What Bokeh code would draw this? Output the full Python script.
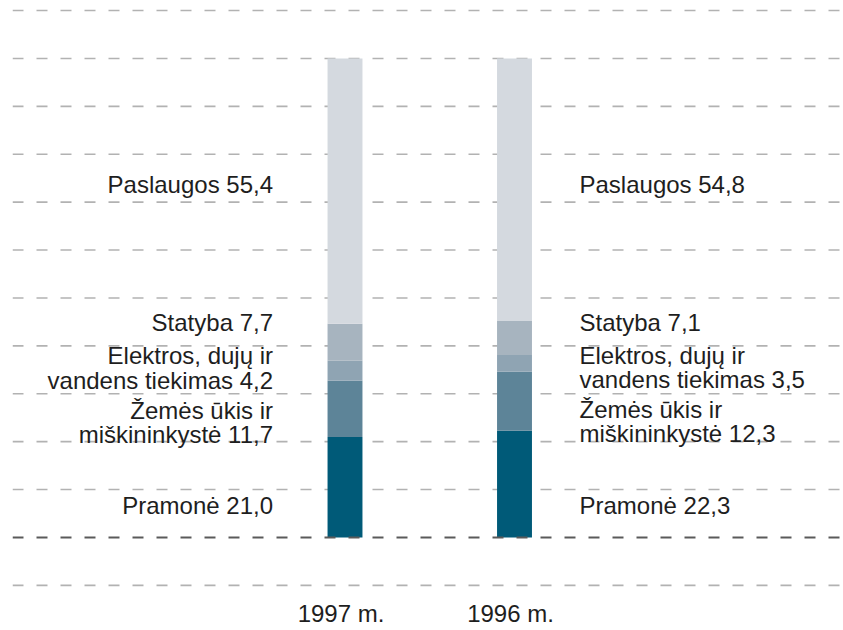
from bokeh.plotting import figure
from bokeh.models import ColumnDataSource, Span
from bokeh.core.properties import value
from bokeh.embed import file_html
from bokeh.resources import INLINE

# ---- data ----
years = ["1997 m.", "1996 m."]
x_pos = [1, 2]
sectors = ["Pramonė", "Žemės ūkis ir\nmiškininkystė", "Elektros, dujų ir\nvandens tiekimas", "Statyba", "Paslaugos"]
keys = ["pramone", "zemes", "elektros", "statyba", "paslaugos"]
vals_1997 = [21.0, 11.7, 4.2, 7.7, 55.4]
vals_1996 = [22.3, 12.3, 3.5, 7.1, 54.8]
colors = ["#005a78", "#5d8498", "#8fa4b3", "#a7b4bf", "#d4d9df"]
grid_values = [-10, 10, 20, 30, 40, 50, 60, 70, 80, 90, 100, 110]
baseline_value = [0]
# label anchor heights (in value units) for each sector label
label_y_1997 = [6.7, 24.0, 35.3, 44.9, 73.7]
label_y_1996 = [6.7, 24.2, 35.5, 44.9, 73.7]
year_label_y = -15.9

FONT = value("Liberation Sans")
FS = "24px"

p = figure(width=843, height=630, output_backend="svg", toolbar_location=None,
           x_range=(-0.9617, 3.941), y_range=(-19.42, 112.1),
           x_axis_type=None, y_axis_type=None,
           min_border_left=12, min_border_right=0, min_border_top=0, min_border_bottom=0)
p.outline_line_color = None
p.background_fill_color = "white"
p.border_fill_color = "white"

for g in grid_values:
    p.add_layout(Span(location=g, dimension="width", line_color="#b2b2b2",
                      line_width=1.6, line_dash="11 13", level="underlay"))

data = {"x": x_pos}
for k, a, b in zip(keys, vals_1997, vals_1996):
    data[k] = [a, b]
src = ColumnDataSource(data)
p.vbar_stack(keys, x="x", width=0.206, color=colors, line_color=None, source=src)

for b in baseline_value:
    p.add_layout(Span(location=b, dimension="width", line_color="#5a5a5a",
                      line_width=2, line_dash="11 13", level="overlay"))

def fmt(name, v):
    return f"{name} {v:.1f}".replace(".", ",")

lab97 = ColumnDataSource(dict(x=[x_pos[0]] * len(sectors), y=label_y_1997,
                              t=[fmt(s, v) for s, v in zip(sectors, vals_1997)]))
lab96 = ColumnDataSource(dict(x=[x_pos[1]] * len(sectors), y=label_y_1996,
                              t=[fmt(s, v) for s, v in zip(sectors, vals_1996)]))
p.text(x="x", y="y", text="t", source=lab97, x_offset=-72, text_align="right",
       text_baseline="middle", text_font=FONT, text_font_size=FS,
       text_color="#1e1e1e", text_line_height=0.92)
p.text(x="x", y="y", text="t", source=lab96, x_offset=65, text_align="left",
       text_baseline="middle", text_font=FONT, text_font_size=FS,
       text_color="#1e1e1e", text_line_height=0.92)

ysrc = ColumnDataSource(dict(x=x_pos, y=[year_label_y] * 2, t=years))
p.text(x="x", y="y", text="t", source=ysrc, x_offset=-4, text_align="center",
       text_baseline="middle", text_font=FONT, text_font_size=FS, text_color="#1e1e1e")

open("out.html", "w").write(file_html(p, INLINE))
